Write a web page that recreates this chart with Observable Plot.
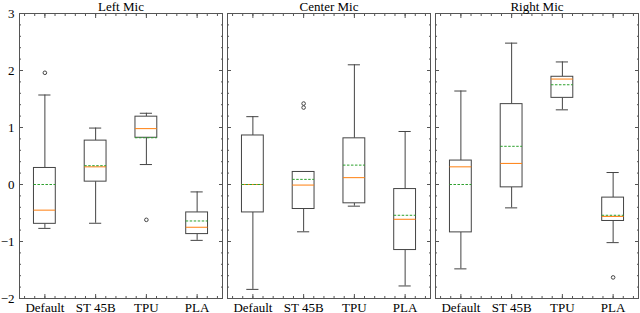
<!DOCTYPE html>
<html>
<head>
<meta charset="utf-8">
<script src="https://cdn.jsdelivr.net/npm/d3@7"></script>
<script src="https://cdn.jsdelivr.net/npm/@observablehq/plot@0.6"></script>
<style>
  html, body { margin: 0; padding: 0; background: #fff; }
  svg text { font-family: "Liberation Serif", "Times New Roman", serif !important; font-weight: normal !important; font-size: 13px !important; }
</style>
</head>
<body>
<script>
const mics = ["Left Mic", "Center Mic", "Right Mic"];
const materials = ["Default", "ST 45B", "TPU", "PLA"];
// values in order: for each mic, Default, ST 45B, TPU, PLA
const whiskerLow  = [-0.77, -0.68, 0.35, -0.98,  -1.84, -0.83, -0.38, -1.78,  -1.48, -0.41, 1.31, -1.02];
const q1          = [-0.69,  0.05, 0.82, -0.87,  -0.49, -0.43, -0.33, -1.15,  -0.84, -0.05, 1.52, -0.64];
const median      = [-0.45,  0.31, 0.98, -0.75,   0.00, -0.01,  0.12, -0.61,   0.31,  0.37, 1.85, -0.56];
const q3          = [ 0.29,  0.77, 1.19, -0.49,   0.86,  0.22,  0.81, -0.08,   0.42,  1.41, 1.89, -0.23];
const whiskerHigh = [ 1.57,  0.99, 1.25, -0.13,   1.19,  0.22,  2.10,  0.93,   1.64,  2.48, 2.15,  0.21];
const mean        = [ 0.00,  0.33, 0.82, -0.64,   0.00,  0.09,  0.34, -0.54,   0.00,  0.67, 1.75, -0.54];
const outlierMic      = ["Left Mic", "Left Mic", "Center Mic", "Center Mic", "Right Mic"];
const outlierMaterial = ["Default", "TPU", "ST 45B", "ST 45B", "PLA"];
const outlierValue    = [1.96, -0.62, 1.42, 1.35, -1.63];
const yLabels = [-2, -1, 0, 1, 2, 3];

const rows = [];
mics.forEach((mic, m) => materials.forEach((mat, k) => {
  const i = m * 4 + k;
  rows.push({mic, mat, pos: k + 1, lo: whiskerLow[i], q1: q1[i], med: median[i], q3: q3[i], hi: whiskerHigh[i], mean: mean[i]});
}));
const outliers = outlierValue.map((v, i) => ({mic: outlierMic[i], pos: materials.indexOf(outlierMaterial[i]) + 1, v}));

const BOX = 0.215, CAP = 0.12;
const minorY = d3.range(-10, 16).map(k => k / 5);
const minorX = d3.range(3, 23).map(k => k / 5);
const frameColor = "#555";
const boxColor = "#444";
const fmtY = d => (d < 0 ? "\u2212" : "") + Math.abs(d);

const tickY = (ticks, size, anchor) => Plot.axisY({ticks, tickSize: -size, anchor, facetAnchor: null, stroke: frameColor, text: null, label: null});
const tickX = (ticks, size, anchor) => Plot.axisX({ticks, tickSize: -size, anchor, facetAnchor: null, stroke: frameColor, text: null, label: null});

const chart = Plot.plot({
  width: 640,
  height: 313,
  marginLeft: 19,
  marginRight: 2,
  marginTop: 13,
  marginBottom: 15,
  style: {fontFamily: "Liberation Serif, serif", fontSize: "13px", color: "#000", background: "#fff"},
  fx: {domain: mics, paddingInner: 0.025, paddingOuter: 0, label: null, axis: Plot.axisFx ? undefined : "top", tickSize: 0, tickPadding: 3},
  x: {domain: [0.5, 4.5], label: null},
  y: {domain: [-2, 3], label: null},
  marks: [
    Plot.frame({stroke: frameColor, strokeWidth: 1}),
    tickY(minorY, 2, "left"),
    tickY(minorY, 2, "right"),
    tickY(yLabels, 4, "left"),
    tickY(yLabels, 4, "right"),
    tickX(minorX, 2, "top"),
    tickX(minorX, 2, "bottom"),
    tickX([1, 2, 3, 4], 4, "top"),
    tickX([1, 2, 3, 4], 4, "bottom"),
    Plot.axisY({ticks: yLabels, tickFormat: fmtY, tickSize: 0, tickPadding: 5, anchor: "left", label: null, fill: "#000", fontSize: 13}),
    Plot.axisX({ticks: [1, 2, 3, 4], tickFormat: d => materials[d - 1], tickSize: 0, tickPadding: 4, anchor: "bottom", facetAnchor: null, label: null, fill: "#000", fontSize: 13}),
    Plot.axisFx ? Plot.axisFx({anchor: "top", tickSize: 0, tickPadding: 3, label: null, fontSize: 13, fill: "#000"}) : null,
    // whiskers
    Plot.ruleX(rows, {fx: "mic", x: "pos", y1: "q3", y2: "hi", stroke: boxColor}),
    Plot.ruleX(rows, {fx: "mic", x: "pos", y1: "lo", y2: "q1", stroke: boxColor}),
    Plot.ruleY(rows, {fx: "mic", y: "hi", x1: d => d.pos - CAP, x2: d => d.pos + CAP, stroke: boxColor}),
    Plot.ruleY(rows, {fx: "mic", y: "lo", x1: d => d.pos - CAP, x2: d => d.pos + CAP, stroke: boxColor}),
    // boxes
    Plot.rect(rows, {fx: "mic", x1: d => d.pos - BOX, x2: d => d.pos + BOX, y1: "q1", y2: "q3", fill: "#fff", stroke: boxColor, strokeWidth: 1}),
    // median
    Plot.ruleY(rows, {fx: "mic", y: "med", x1: d => d.pos - BOX, x2: d => d.pos + BOX, stroke: "#ff7f0e", strokeWidth: 1}),
    // mean
    Plot.ruleY(rows, {fx: "mic", y: "mean", x1: d => d.pos - BOX, x2: d => d.pos + BOX, stroke: "#2ca02c", strokeWidth: 1, strokeDasharray: "2.5,1.5"}),
    // outliers
    Plot.dot(outliers, {fx: "mic", x: "pos", y: "v", r: 1.8, stroke: boxColor, fill: "none", strokeWidth: 1})
  ]
});
document.body.appendChild(chart);
</script>
</body>
</html>
